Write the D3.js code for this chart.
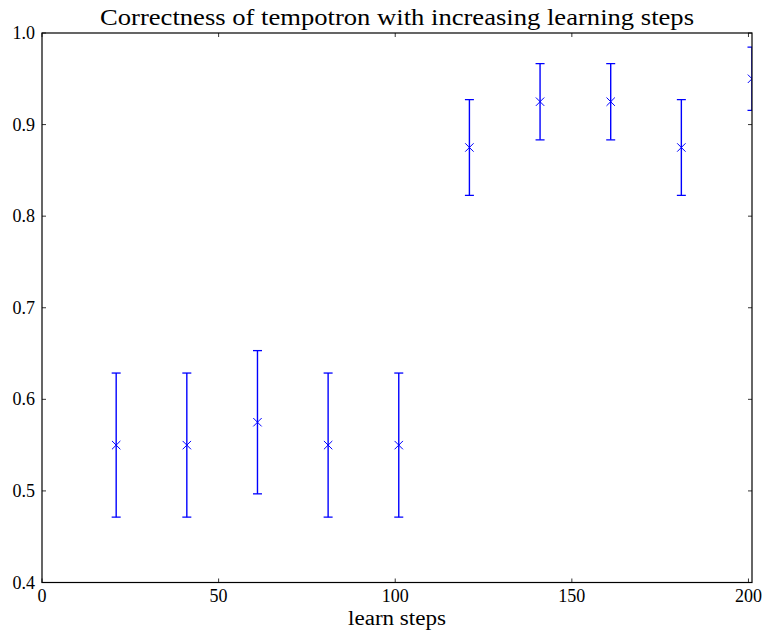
<!DOCTYPE html>
<html>
<head>
<meta charset="utf-8">
<script src="https://cdn.jsdelivr.net/npm/d3@7"></script>
<style>
  html, body { margin: 0; padding: 0; background: #fff; }
  svg { display: block; }
  text { font-family: "Liberation Serif", "DejaVu Serif", serif; fill: #000; }
</style>
</head>
<body>
<svg id="chart" width="763" height="630"></svg>
<script>
// Learning steps, mean correctness and error half-widths
const learnSteps = [21, 41, 61, 81, 101, 121, 141, 161, 181, 201];
const correctness = [0.55, 0.55, 0.575, 0.55, 0.55, 0.875, 0.925, 0.925, 0.875, 0.95];
const errors = [0.0787, 0.0787, 0.0782, 0.0787, 0.0787, 0.0523, 0.0416, 0.0416, 0.0523, 0.0345];
const xTicks = [0, 50, 100, 150, 200];
const yTicks = [0.4, 0.5, 0.6, 0.7, 0.8, 0.9, 1.0];

const svg = d3.select("#chart");
const plotL = 42, plotR = 752, plotT = 33, plotB = 582.5;

const x = d3.scaleLinear().domain([0, 201]).range([plotL, plotR]);
const y = d3.scaleLinear().domain([0.4, 1.0]).range([plotB, plotT]);

const data = learnSteps.map((s, i) => ({ s, v: correctness[i], e: errors[i] }));

svg.append("defs").append("clipPath").attr("id", "plotClip")
  .append("rect").attr("x", plotL).attr("y", plotT)
  .attr("width", plotR - plotL).attr("height", plotB - plotT);

const blue = "#0000ff";
const marks = svg.append("g").attr("clip-path", "url(#plotClip)");

// vertical error bars
marks.selectAll("line.bar").data(data).join("line")
  .attr("class", "bar")
  .attr("x1", d => x(d.s)).attr("x2", d => x(d.s))
  .attr("y1", d => y(d.v - d.e)).attr("y2", d => y(d.v + d.e))
  .attr("stroke", blue).attr("stroke-width", 1.4);

// caps
const capHalf = 4.5;
["lo", "hi"].forEach(k => {
  marks.selectAll("line.cap" + k).data(data).join("line")
    .attr("class", "cap" + k)
    .attr("x1", d => x(d.s) - capHalf).attr("x2", d => x(d.s) + capHalf)
    .attr("y1", d => y(k === "lo" ? d.v - d.e : d.v + d.e))
    .attr("y2", d => y(k === "lo" ? d.v - d.e : d.v + d.e))
    .attr("stroke", blue).attr("stroke-width", 1.3);
});

// x markers
const m = 4.2;
marks.selectAll("path.mk").data(data).join("path")
  .attr("class", "mk")
  .attr("d", d => {
    const cx = x(d.s), cy = y(d.v);
    return `M${cx - m},${cy - m}L${cx + m},${cy + m}M${cx - m},${cy + m}L${cx + m},${cy - m}`;
  })
  .attr("stroke", blue).attr("stroke-width", 1).attr("fill", "none");

// inward ticks on all four sides
const tickLen = 4;
const axes = svg.append("g");
axes.selectAll("line.xt").data(xTicks).join("line")
  .attr("x1", d => x(d)).attr("x2", d => x(d))
  .attr("y1", plotB).attr("y2", plotB - tickLen)
  .attr("stroke", "#000").attr("stroke-width", 0.8);
axes.selectAll("line.xtt").data(xTicks).join("line")
  .attr("x1", d => x(d)).attr("x2", d => x(d))
  .attr("y1", plotT).attr("y2", plotT + tickLen)
  .attr("stroke", "#000").attr("stroke-width", 0.8);
axes.selectAll("line.yt").data(yTicks).join("line")
  .attr("y1", d => y(d)).attr("y2", d => y(d))
  .attr("x1", plotL).attr("x2", plotL + tickLen)
  .attr("stroke", "#000").attr("stroke-width", 0.8);
axes.selectAll("line.ytr").data(yTicks).join("line")
  .attr("y1", d => y(d)).attr("y2", d => y(d))
  .attr("x1", plotR).attr("x2", plotR - tickLen)
  .attr("stroke", "#000").attr("stroke-width", 0.8);

// frame
svg.append("rect")
  .attr("x", plotL).attr("y", plotT)
  .attr("width", plotR - plotL).attr("height", plotB - plotT)
  .attr("fill", "none").attr("stroke", "#000").attr("stroke-width", 1.2);

// tick labels
axes.selectAll("text.xl").data(xTicks).join("text")
  .attr("x", d => x(d)).attr("y", plotB + 19.5)
  .attr("text-anchor", "middle").attr("font-size", 18)
  .text(d => d3.format("d")(d));
axes.selectAll("text.yl").data(yTicks).join("text")
  .attr("x", plotL - 7).attr("y", d => y(d) + 6)
  .attr("text-anchor", "end").attr("font-size", 18)
  .text(d => d3.format(".1f")(d));

// axis title and chart title
svg.append("text").attr("x", (plotL + plotR) / 2).attr("y", 625)
  .attr("text-anchor", "middle").attr("font-size", 20)
  .attr("textLength", 98).attr("lengthAdjust", "spacingAndGlyphs")
  .text("learn steps");
svg.append("text").attr("x", (plotL + plotR) / 2).attr("y", 25)
  .attr("text-anchor", "middle").attr("font-size", 24)
  .attr("textLength", 594).attr("lengthAdjust", "spacingAndGlyphs")
  .text("Correctness of tempotron with increasing learning steps");
</script>
</body>
</html>
